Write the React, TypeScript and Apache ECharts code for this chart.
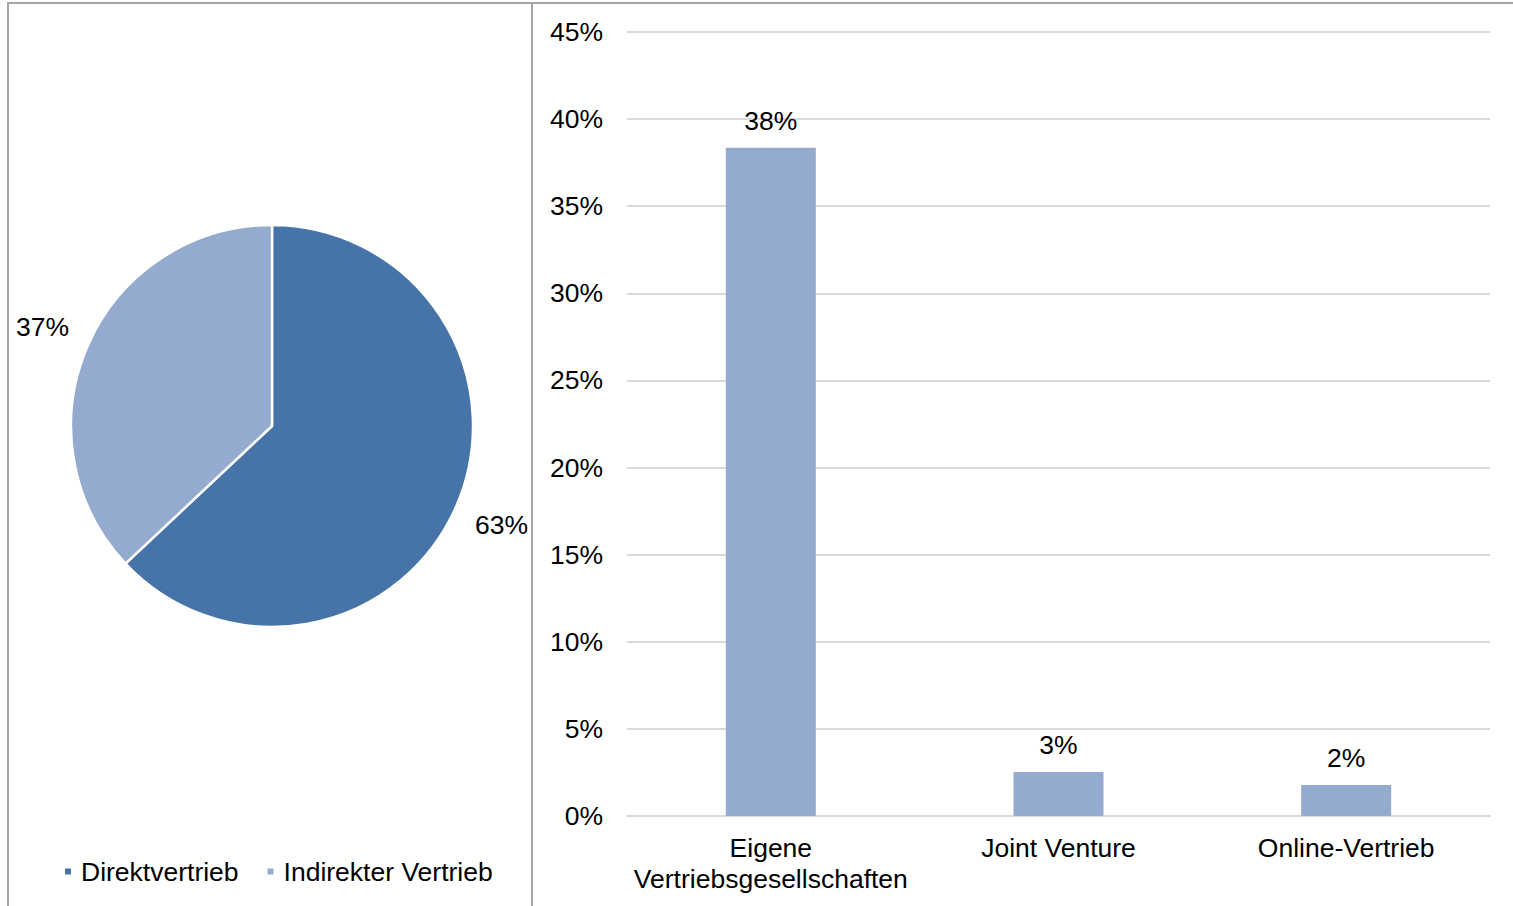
import React, { useEffect, useRef } from "react";
import * as echarts from "echarts";

const pieNames = ["Direktvertrieb", "Indirekter Vertrieb"];
const pieValues = [63, 37];
const pieColors = ["#4674A8", "#95AACF"];

const barCategories = ["Eigene\nVertriebsgesellschaften", "Joint Venture", "Online-Vertrieb"];
const barValues = [38.35, 2.53, 1.78];
const barColor = "#95AACF";

const yMin = 0;
const yMax = 45;
const yInterval = 5;

const FONT = "'Liberation Sans', Arial, sans-serif";
const FS = 26.5;

export default function App() {
  const ref = useRef<HTMLDivElement>(null);

  useEffect(() => {
    if (!ref.current) return;
    const chart = echarts.init(ref.current, undefined, { renderer: "svg" });
    const pieData = pieNames.map((n, i) => ({
      name: n,
      value: pieValues[i],
      itemStyle: { color: pieColors[i] },
    }));
    const option: any = {
      animation: false,
      backgroundColor: "#ffffff",
      textStyle: { fontFamily: FONT },
      graphic: [
        { type: "line", shape: { x1: 7, y1: 3, x2: 1513, y2: 3 }, style: { stroke: "#A6A6A6", lineWidth: 2 }, silent: true },
        { type: "line", shape: { x1: 8, y1: 3, x2: 8, y2: 906 }, style: { stroke: "#A6A6A6", lineWidth: 2 }, silent: true },
        { type: "line", shape: { x1: 532, y1: 3, x2: 532, y2: 906 }, style: { stroke: "#A6A6A6", lineWidth: 2 }, silent: true },
      ],
      legend: {
        data: pieNames,
        left: 63,
        top: 858,
        padding: 0,
        itemWidth: 8,
        itemHeight: 8,
        itemGap: 27,
        icon: "rect",
        textStyle: { fontSize: FS, color: "#000", fontFamily: FONT, padding: [0, 0, 0, 4] },
      },
      grid: { left: 627, right: 23, top: 32, bottom: 90, containLabel: false },
      xAxis: {
        type: "category",
        data: barCategories,
        axisLine: { show: true, lineStyle: { color: "#D9D9D9", width: 2 } },
        axisTick: { show: false },
        axisLabel: { fontSize: FS, color: "#000", fontFamily: FONT, margin: 16, lineHeight: 31, interval: 0 },
      },
      yAxis: {
        type: "value",
        min: yMin,
        max: yMax,
        interval: yInterval,
        axisLine: { show: false },
        axisTick: { show: false },
        splitLine: { lineStyle: { color: "#D9D9D9", width: 2 } },
        axisLabel: { fontSize: FS, color: "#000", fontFamily: FONT, margin: 24, formatter: "{value}%" },
      },
      series: [
        {
          type: "pie",
          center: [272, 426],
          radius: 201,
          startAngle: 90,
          clockwise: true,
          data: pieData,
          label: { show: false },
          labelLine: { show: false },
          itemStyle: { borderColor: "#ffffff", borderWidth: 2.5 },
          emphasis: { disabled: true },
        },
        {
          type: "pie",
          center: [272, 426],
          radius: [236, 258],
          startAngle: 90,
          clockwise: true,
          silent: true,
          data: pieData.map((d) => ({ name: d.name, value: d.value, itemStyle: { color: "rgba(0,0,0,0)" } })),
          label: {
            show: true,
            position: "inside",
            formatter: (p: any) => `${p.value}%`,
            fontSize: FS,
            color: "#000",
            fontFamily: FONT,
          },
          labelLine: { show: false },
          emphasis: { disabled: true },
        },
        {
          type: "bar",
          data: barValues,
          barWidth: 90,
          itemStyle: { color: barColor },
          label: {
            show: true,
            position: "top",
            distance: 13,
            fontSize: FS,
            color: "#000",
            fontFamily: FONT,
            formatter: (p: any) => `${Math.round(p.value)}%`,
          },
          emphasis: { disabled: true },
        },
      ],
    };
    chart.setOption(option);
    return () => chart.dispose();
  }, []);

  return (
    <div
      ref={ref}
      style={{ position: "fixed", left: 0, top: 0, width: 1513, height: 906, background: "#fff" }}
    />
  );
}
